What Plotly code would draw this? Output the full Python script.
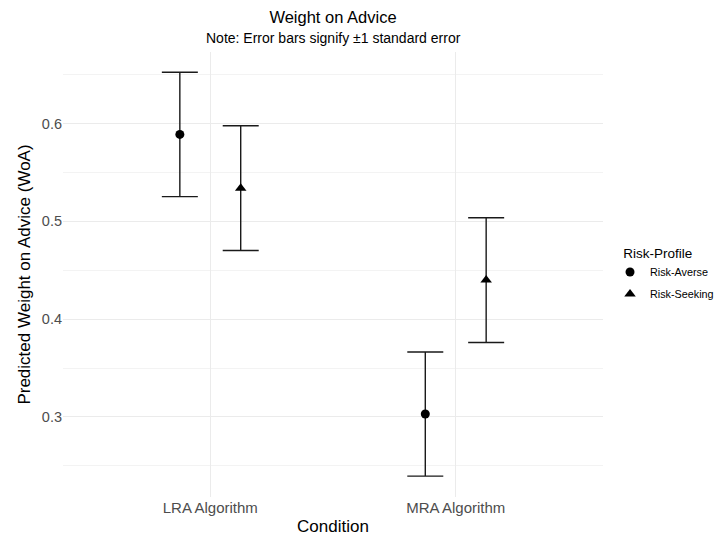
import plotly.graph_objects as go

# ---- data ----
conditions = ["LRA Algorithm", "MRA Algorithm"]
profiles = ["Risk-Averse", "Risk-Seeking"]
woa_averse = [0.589, 0.303]
woa_seeking = [0.534, 0.440]
se_averse = [0.0636, 0.0635]
se_seeking = [0.0638, 0.0638]
symbols = ["circle", "triangle-up"]
dodge = [-0.124, 0.124]

series = [woa_averse, woa_seeking]
errors = [se_averse, se_seeking]

FONT = "Liberation Sans, Arial, sans-serif"

fig = go.Figure()
for k, name in enumerate(profiles):
    xs = [i + dodge[k] for i in range(len(conditions))]
    fig.add_trace(go.Scatter(
        x=xs, y=series[k], mode="markers", name=name, legendgroup=name,
        marker=dict(symbol=symbols[k], color="black", size=9 if k == 0 else 10),
        error_y=dict(type="data", array=errors[k], visible=True,
                     color="#1a1a1a", thickness=1.4, width=18),
    ))

fig.update_layout(
    width=717, height=536,
    margin=dict(l=63, r=114, t=52, b=39, autoexpand=False),
    plot_bgcolor="white", paper_bgcolor="white",
    font=dict(family=FONT, color="black"),
    title=dict(
        text="Weight on Advice",
        font=dict(size=16.5, color="black"),
        x=(63 + 603) / 2 / 717, xanchor="center",
        y=1 - 17 / 536, yanchor="middle", yref="container",
    ),
    annotations=[dict(
        text="Note: Error bars signify ±1 standard error",
        xref="paper", yref="paper", x=0.5, y=(497 - 38) / 445,
        xanchor="center", yanchor="middle", showarrow=False,
        font=dict(size=14, color="black"),
    )],
    showlegend=True,
    legend=dict(
        title=dict(text="\u00a0\u00a0\u00a0Risk-Profile", font=dict(size=13.5, color="black")),
        font=dict(size=10.8, color="black"),
        x=1.013, xanchor="left", y=0.5, yanchor="middle",
        bgcolor="rgba(0,0,0,0)", tracegroupgap=3,
    ),
    xaxis=dict(
        range=[-0.6, 1.6],
        tickmode="array", tickvals=list(range(len(conditions))), ticktext=conditions,
        showgrid=True, gridcolor="#EBEBEB", gridwidth=1.1,
        zeroline=False, showline=False, ticks="",
        tickfont=dict(size=15, color="#4D4D4D"),
        title=dict(text="Condition", font=dict(size=17, color="black"), standoff=8),
        automargin=False,
    ),
    yaxis=dict(
        range=[0.2181, 0.6733],
        tickmode="array", tickvals=[0.3, 0.4, 0.5, 0.6], ticktext=["0.3", "0.4", "0.5", "0.6"],
        showgrid=True, gridcolor="#EBEBEB", gridwidth=1.1,
        minor=dict(tickmode="array", tickvals=[0.25, 0.35, 0.45, 0.55, 0.65],
                   showgrid=True, gridcolor="#F3F3F3", gridwidth=0.8),
        zeroline=False, showline=False, ticks="",
        tickfont=dict(size=14.5, color="#4D4D4D"),
        title=dict(text="Predicted Weight on Advice (WoA)", font=dict(size=17, color="black"), standoff=6),
        automargin=False,
    ),
)

fig.write_html("out.html")
